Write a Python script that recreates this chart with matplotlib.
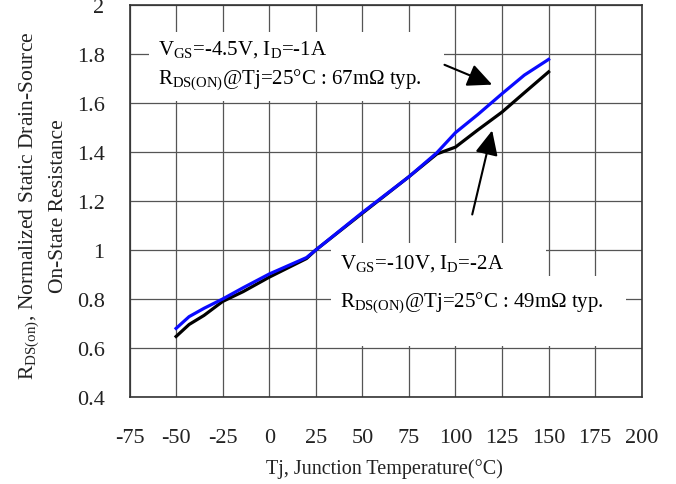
import matplotlib
matplotlib.use("Agg")
import matplotlib.pyplot as plt

plt.rcParams['font.family'] = ['Liberation Serif', 'DejaVu Serif']
plt.rcParams['mathtext.fontset'] = 'custom'
plt.rcParams['mathtext.rm'] = 'Liberation Serif'
plt.rcParams['axes.unicode_minus'] = False

# Tj (degC) and normalized Rds(on)
temp = [-50, -43, -35, -25, -14, 0, 20, 25, 50, 75, 90, 100, 112, 125, 137, 150]
r_45v = [0.68, 0.728, 0.762, 0.80, 0.846, 0.902, 0.969, 1.0, 1.153, 1.299, 1.397, 1.479, 1.553, 1.638, 1.714, 1.778]
r_10v = [0.647, 0.696, 0.733, 0.79, 0.83, 0.889, 0.965, 1.0, 1.15, 1.299, 1.392, 1.42, 1.49, 1.563, 1.642, 1.727]

xticks = [-75, -50, -25, 0, 25, 50, 75, 100, 125, 150, 175, 200]
yticks = [0.4, 0.6, 0.8, 1, 1.2, 1.4, 1.6, 1.8, 2]
ylabels = ['0.4', '0.6', '0.8', '1', '1.2', '1.4', '1.6', '1.8', '2']

fig = plt.figure(figsize=(6.76, 4.85), dpi=100)
ax = fig.add_axes([0.1916, 0.1794, 0.7577, 0.8082])

ax.plot(temp, r_10v, color='black', lw=2.3, zorder=3)
ax.plot(temp, r_45v, color='#0a0aff', lw=2.3, zorder=4)

ax.set_xlim(-75, 200)
ax.set_ylim(0.4, 2)
ax.set_xticks(xticks)
ax.set_yticks(yticks)
ax.set_yticklabels(ylabels)
ax.grid(True, color='#555555', lw=0.9)
ax.set_axisbelow(True)
ax.tick_params(length=0, labelsize=16, colors='#222222')
ax.tick_params(axis='x', pad=22)
ax.tick_params(axis='y', pad=18)
for s in ax.spines.values():
    s.set_color('#333333')
    s.set_linewidth(1.2)

ax.set_xlabel('Tj, Junction Temperature(°C)', fontsize=14.5, color='#222222')
ax.xaxis.set_label_coords(0.498, -0.155)
ax.set_ylabel('R$_{\\rm DS(on)}$, Normalized Static Drain-Source\nOn-State Resistance',
              fontsize=15.5, color='#222222', linespacing=1.5)
ax.yaxis.set_label_coords(-0.12, 0.49)

box = dict(facecolor='white', edgecolor='none', pad=7)
ax.text(-59.5, 1.755, 'V$_{\\rm GS}$=-4.5V, I$_{\\rm D}$=-1A\n'
        'R$_{\\rm DS(ON)}$@Tj=25°C : 67m$\\Omega$ typ.   ',
        fontsize=15, va='center', ha='left', bbox=box, zorder=5, linespacing=1.4)
ax.text(38.2, 0.944, 'V$_{\\rm GS}$=-10V, I$_{\\rm D}$=-2A       ',
        fontsize=15, va='center', ha='left', bbox=box, zorder=5)
ax.text(38.2, 0.84, 'R$_{\\rm DS(ON)}$@Tj=25°C : 49m$\\Omega$ typ.   \n ',
        fontsize=15, va='top', ha='left', bbox=box, zorder=5)

arrow = dict(arrowstyle='-|>,head_length=0.75,head_width=0.35', color='black',
             lw=1.5, mutation_scale=20, shrinkA=0, shrinkB=0)
ax.annotate('', xy=(119.7, 1.675), xytext=(94.1, 1.756), arrowprops=arrow, zorder=6)
ax.annotate('', xy=(119.7, 1.488), xytext=(109, 1.145), arrowprops=arrow, zorder=6)

fig.savefig('out.png', dpi=100)
